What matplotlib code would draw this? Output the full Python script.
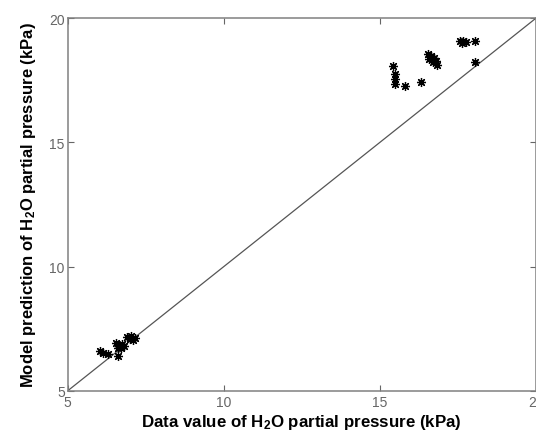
import numpy as np
import matplotlib
matplotlib.use("Agg")
import matplotlib.pyplot as plt

plt.rcParams['font.family'] = ['Liberation Sans', 'DejaVu Sans']
plt.rcParams['mathtext.fontset'] = 'custom'
plt.rcParams['mathtext.rm'] = 'Liberation Sans:bold'
plt.rcParams['mathtext.bf'] = 'Liberation Sans:bold'
plt.rcParams['mathtext.default'] = 'rm'

# data value (x) vs model prediction (y), kPa
data_low = [6.04, 6.15, 6.31, 6.63, 6.55, 6.65, 6.74, 6.71, 6.81, 6.62,
            6.90, 7.00, 7.10, 7.03, 7.16]
model_low = [6.62, 6.52, 6.49, 6.42, 6.93, 6.81, 6.89, 6.73, 6.81, 6.73,
             7.17, 7.09, 7.05, 7.21, 7.13]

data_high = [15.43, 15.50, 15.50, 15.50, 15.82, 16.32,
             16.54, 16.63, 16.73, 16.79, 16.82, 16.70, 16.57,
             17.56, 17.66, 17.75, 17.62, 18.04, 18.04]
model_high = [18.08, 17.77, 17.55, 17.37, 17.28, 17.44,
              18.55, 18.47, 18.39, 18.27, 18.11, 18.23, 18.35,
              19.07, 19.07, 19.05, 18.99, 19.09, 18.24]

ticks = [5, 10, 15, 20]

fig = plt.figure(figsize=(5.36, 4.35), dpi=100)
ax = fig.add_axes([0.126, 0.099, 0.874, 0.857])

ax.plot([5, 20], [5, 20], color='#555555', lw=0.9)
# matlab style '*' marker (8-armed asterisk)
ax.plot(data_low + data_high, model_low + model_high, ls='none',
        marker=(8, 2, 0), color='black', ms=6.5, mew=0.9)

ax.set_xlim(5, 20)
ax.set_ylim(5, 20)
ax.set_xticks(ticks)
ax.set_yticks(ticks)
ax.tick_params(direction='in', length=4, colors='#666666', labelsize=10,
               top=True, right=True, width=0.8, pad=2)
ax.tick_params(axis='x', pad=3)
for s in ax.spines.values():
    s.set_color('#808080')
    s.set_linewidth(1.1)

ax.set_xlabel(r'Data value of H$_2$O partial pressure (kPa)',
              fontsize=12.2, fontweight='bold', labelpad=2)
ax.set_ylabel(r'Model prediction of H$_2$O partial pressure (kPa)',
              fontsize=12, fontweight='bold', labelpad=8)

fig.savefig("out.png", dpi=100)
